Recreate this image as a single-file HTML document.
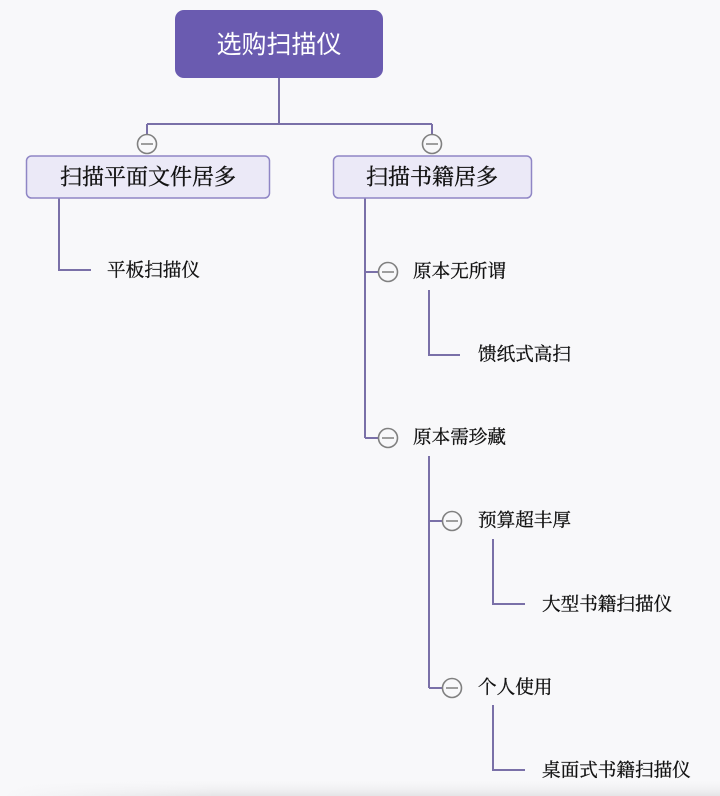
<!DOCTYPE html>
<html><head><meta charset="utf-8"><style>
html,body{margin:0;padding:0;background:#f8f8fa;}
svg{display:block;}
text{font-family:"Liberation Serif","Noto Serif CJK SC",serif;dominant-baseline:central;}
text.sans{font-family:"Liberation Sans","Noto Sans CJK SC",sans-serif;}
</style></head><body>
<svg width="720" height="796" viewBox="0 0 720 796" xmlns="http://www.w3.org/2000/svg">
<defs>
<linearGradient id="bg" x1="0" y1="0" x2="0" y2="1">
<stop offset="0" stop-color="#f8f8fa" stop-opacity="0"/>
<stop offset="1" stop-color="#e4e4e6"/>
</linearGradient>
<linearGradient id="bh" x1="0" y1="0" x2="1" y2="0">
<stop offset="0" stop-color="#f8f8fa"/>
<stop offset="0.3" stop-color="#f8f8fa" stop-opacity="0"/>
</linearGradient>
</defs>
<rect width="720" height="796" fill="#f8f8fa"/>
<rect x="0" y="778" width="720" height="18" fill="url(#bg)"/>
<rect x="0" y="778" width="720" height="18" fill="url(#bh)"/>

<g stroke="#7a70a8" stroke-width="2" fill="none">
<path d="M279 78 V124 M147 124 H432 M147 124 V134 M432 124 V134"/>
<path d="M59 198 V270 H91"/>
<path d="M365 198 V438 M365 272 H379 M365 438 H379"/>
<path d="M429 290 V355 H460"/>
<path d="M429 456 V688 M429 521 H443 M429 688 H443"/>
<path d="M493 539 V604 H525"/>
<path d="M493 705 V770 H525"/>
</g>

<rect x="175" y="10" width="208" height="68" rx="9" fill="#6a5bb0"/>
<text class="sans" x="279" y="45" font-size="25" fill="#ffffff" text-anchor="middle">选购扫描仪</text>

<rect x="26.5" y="156" width="243" height="42" rx="5" fill="#ebe9f7" stroke="#8f86c5" stroke-width="1.5"/>
<text x="148" y="177" font-size="22" fill="#111" stroke="#111" stroke-width="0.35" text-anchor="middle">扫描平面文件居多</text>

<rect x="333.5" y="156" width="198" height="42" rx="5" fill="#ebe9f7" stroke="#8f86c5" stroke-width="1.5"/>
<text x="432" y="177" font-size="22" fill="#111" stroke="#111" stroke-width="0.35" text-anchor="middle">扫描书籍居多</text>

<g stroke="#808080" stroke-width="1.6" fill="#f8f8fa">
<circle cx="147" cy="144" r="9.5"/>
<circle cx="432" cy="144" r="9.5"/>
<circle cx="388" cy="272" r="9.5"/>
<circle cx="388" cy="438" r="9.5"/>
<circle cx="452" cy="521" r="9.5"/>
<circle cx="452" cy="688" r="9.5"/>
</g>
<g stroke="#808080" stroke-width="1.6">
<path d="M141 144 H153 M426 144 H438 M382 272 H394 M382 438 H394 M446 521 H458 M446 688 H458"/>
</g>

<g font-size="18.6" fill="#111" stroke="#111" stroke-width="0.3">
<text x="107" y="271">平板扫描仪</text>
<text x="413" y="272">原本无所谓</text>
<text x="478" y="355">馈纸式高扫</text>
<text x="413" y="438">原本需珍藏</text>
<text x="478" y="521">预算超丰厚</text>
<text x="542" y="605">大型书籍扫描仪</text>
<text x="478" y="688">个人使用</text>
<text x="542" y="771">桌面式书籍扫描仪</text>
</g>
</svg>
</body></html>
